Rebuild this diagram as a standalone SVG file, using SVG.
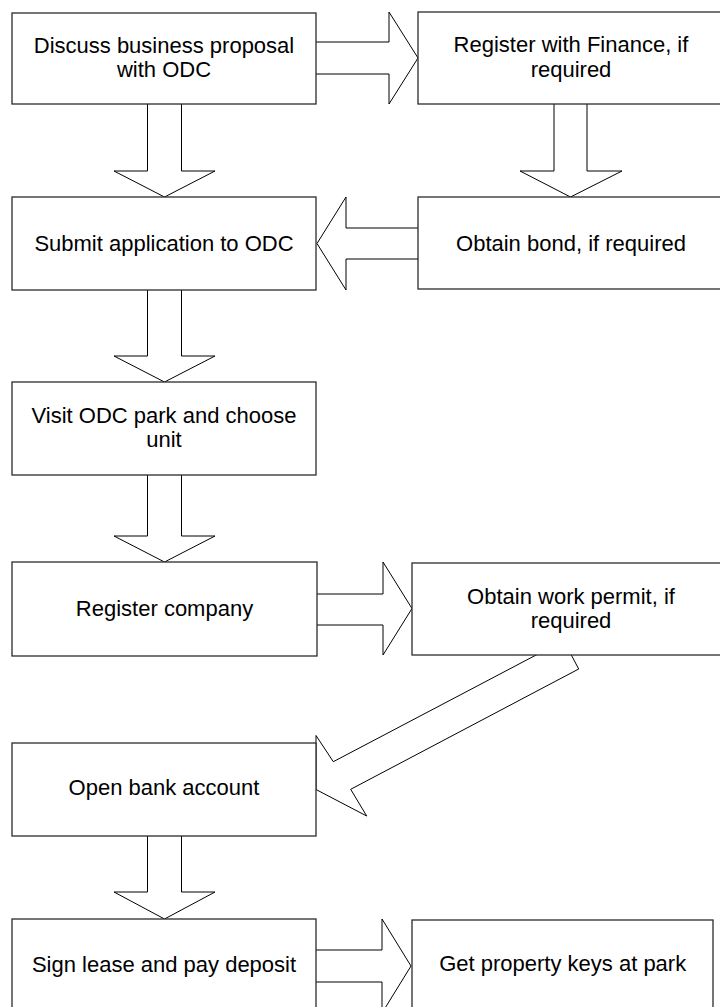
<svg xmlns="http://www.w3.org/2000/svg" width="720" height="1007" viewBox="0 0 720 1007">
  <style>
    .box { fill: #ffffff; stroke: #2b2b2b; stroke-width: 1.3; }
    .arrow { fill: #ffffff; stroke: #000000; stroke-width: 1; stroke-linejoin: miter; }
    .label { font-family: "Liberation Sans", Arial, sans-serif; font-size: 22px; fill: #000000; text-anchor: middle; }
  </style>
  <rect x="0" y="0" width="720" height="1007" fill="#ffffff"/>

  <!-- block arrows; boxes are painted over their ends -->
  <g id="connectors">
    <!-- Discuss -> Register with Finance -->
    <polygon class="arrow" points="310,42 389,42 389,12 418,58 389,104 389,74 310,74"/>
    <!-- Discuss -> Submit application -->
    <polygon class="arrow" points="147.5,100 181.5,100 181.5,171 215,171 164.5,197 114,171 147.5,171"/>
    <!-- Register with Finance -> Obtain bond -->
    <polygon class="arrow" points="554,100 587,100 587,171 622,171 570.5,197 520,171 554,171"/>
    <!-- Obtain bond -> Submit application -->
    <polygon class="arrow" points="424,228 346,228 346,197 317,243.5 346,290 346,259 424,259"/>
    <!-- Submit application -> Visit park -->
    <polygon class="arrow" points="147.5,286 181.5,286 181.5,356 215,356 164.5,382 114,356 147.5,356"/>
    <!-- Visit park -> Register company -->
    <polygon class="arrow" points="147.5,471 181.5,471 181.5,536 215,536 164.5,562 114,536 147.5,536"/>
    <!-- Register company -> Work permit -->
    <polygon class="arrow" points="310,594 383,594 383,562 412,608.5 383,655 383,625 310,625"/>
    <!-- Work permit -> Open bank account -->
    <polygon class="arrow" points="563.7,640.5 578.7,669 350.7,789.3 366.7,816 316,789.5 316,735.5 333.3,761.7"/>
    <!-- Open bank account -> Sign lease -->
    <polygon class="arrow" points="147.5,832 181.5,832 181.5,892 215,892 164.5,919 114,892 147.5,892"/>
    <!-- Sign lease -> Get property keys -->
    <polygon class="arrow" points="310,950 382,950 382,919 411,966 382,1013 382,982 310,982"/>
  </g>

  <g id="discuss">
    <rect class="box" x="12" y="13" width="304" height="91"/>
    <text class="label" x="164" y="52.5">Discuss business proposal</text>
    <text class="label" x="164" y="77">with ODC</text>
  </g>
  <g id="register-finance">
    <rect class="box" x="418" y="12" width="306" height="92"/>
    <text class="label" x="571" y="52">Register with Finance, if</text>
    <text class="label" x="571" y="76.5">required</text>
  </g>
  <g id="submit-application">
    <rect class="box" x="12" y="197" width="304" height="93"/>
    <text class="label" x="164" y="251">Submit application to ODC</text>
  </g>
  <g id="obtain-bond">
    <rect class="box" x="418" y="197" width="306" height="92"/>
    <text class="label" x="571" y="250.7">Obtain bond, if required</text>
  </g>
  <g id="visit-park">
    <rect class="box" x="12" y="382" width="304" height="93"/>
    <text class="label" x="164" y="422.7">Visit ODC park and choose</text>
    <text class="label" x="164" y="446.7">unit</text>
  </g>
  <g id="register-company">
    <rect class="box" x="12" y="562" width="305" height="94"/>
    <text class="label" x="164.5" y="616">Register company</text>
  </g>
  <g id="work-permit">
    <rect class="box" x="412" y="563" width="318" height="92"/>
    <text class="label" x="571" y="603.5">Obtain work permit, if</text>
    <text class="label" x="571" y="627.5">required</text>
  </g>
  <g id="bank-account">
    <rect class="box" x="12" y="743" width="304" height="93"/>
    <text class="label" x="164" y="795">Open bank account</text>
  </g>
  <g id="sign-lease">
    <rect class="box" x="12" y="919" width="304" height="93"/>
    <text class="label" x="164" y="971.7">Sign lease and pay deposit</text>
  </g>
  <g id="property-keys">
    <rect class="box" x="412" y="920" width="301" height="92"/>
    <text class="label" x="562.7" y="970.7">Get property keys at park</text>
  </g>
</svg>
